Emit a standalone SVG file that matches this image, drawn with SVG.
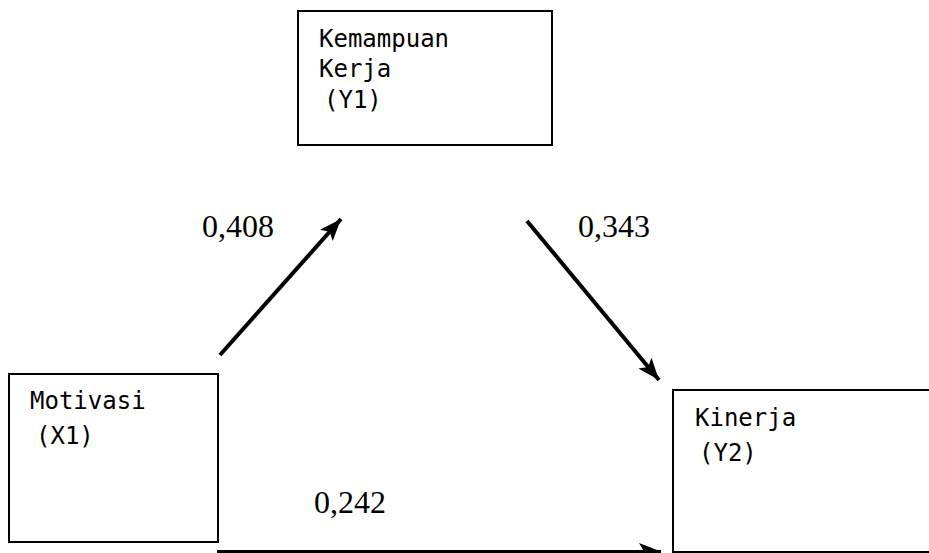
<svg xmlns="http://www.w3.org/2000/svg" width="929" height="553" viewBox="0 0 929 553">
<style>
.box{fill:#fff;stroke:#000;stroke-width:2}
.lbl{font-family:"DejaVu Sans Mono","Liberation Mono",monospace;font-size:24px;fill:#000}
.num{font-family:"Liberation Serif","Times New Roman",serif;font-size:32px;fill:#000}
.conn{stroke:#000;fill:none;stroke-linecap:butt}
</style>
<defs>
<marker id="ah" markerUnits="userSpaceOnUse" markerWidth="24" markerHeight="20" viewBox="0 0 24 20" refX="22" refY="10" orient="auto">
<path d="M0,1.5 L22,10 L0,18.5 L5,10 Z" fill="#000"/>
</marker>
</defs>
<rect width="929" height="553" fill="#fff"/>
<g id="connectors">
<line class="conn" x1="220" y1="355" x2="341" y2="219" stroke-width="4" marker-end="url(#ah)"/>
<line class="conn" x1="527" y1="221" x2="659" y2="380" stroke-width="4" marker-end="url(#ah)"/>
<line class="conn" x1="217" y1="551.5" x2="661" y2="551.5" stroke-width="3" marker-end="url(#ah)"/>
</g>
<g id="node-y1">
<rect class="box" x="298" y="11" width="254" height="134"/>
<text class="lbl" x="319" y="47">Kemampuan</text>
<text class="lbl" x="319" y="77">Kerja</text>
<text class="lbl" x="324" y="108">(Y1)</text>
</g>
<g id="node-x1">
<rect class="box" x="9" y="374" width="209" height="168"/>
<text class="lbl" x="30" y="409">Motivasi</text>
<text class="lbl" x="36" y="444">(X1)</text>
</g>
<g id="node-y2">
<rect class="box" x="673" y="390" width="300" height="162"/>
<text class="lbl" x="695" y="426">Kinerja</text>
<text class="lbl" x="699" y="461">(Y2)</text>
</g>
<g id="labels">
<text class="num" x="202" y="237">0,408</text>
<text class="num" x="578" y="237">0,343</text>
<text class="num" x="314" y="513">0,242</text>
</g>
</svg>
